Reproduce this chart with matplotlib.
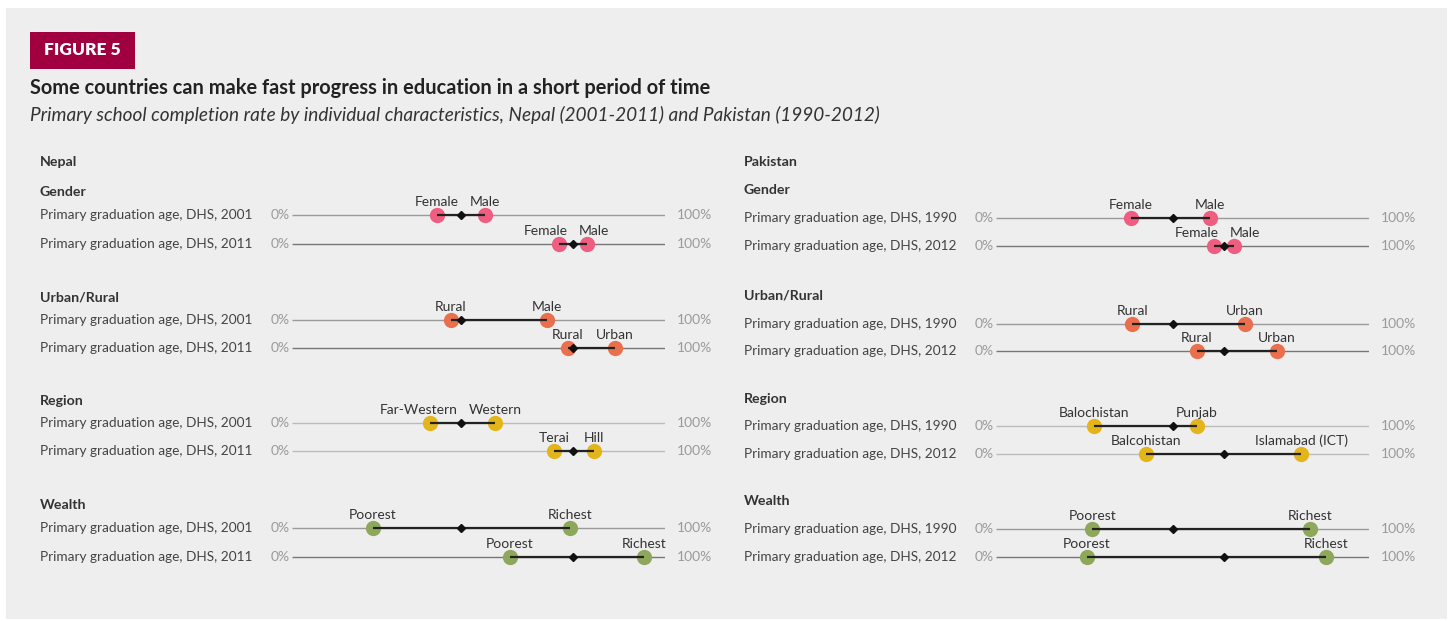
import matplotlib
matplotlib.use("Agg")
import matplotlib.pyplot as plt
from matplotlib.patches import Rectangle
from matplotlib import transforms

plt.rcParams['font.family'] = ['Lato', 'DejaVu Sans']

W, H = 1453, 621

# ---------------- data ----------------
groups = ["Gender", "Urban/Rural", "Region", "Wealth"]

nepal_years = ["2001", "2011"]
nepal_low_labels = [["Female", "Female"], ["Rural", "Rural"], ["Far-Western", "Terai"], ["Poorest", "Poorest"]]
nepal_high_labels = [["Male", "Male"], ["Male", "Urban"], ["Western", "Hill"], ["Richest", "Richest"]]
nepal_low = [[38.9, 71.6], [42.6, 74.0], [37.0, 70.2], [21.7, 58.4]]
nepal_high = [[51.7, 79.1], [68.4, 86.6], [54.4, 81.0], [74.5, 94.4]]
nepal_avg = [45.3, 75.3]

pak_years = ["1990", "2012"]
pak_low_labels = [["Female", "Female"], ["Rural", "Rural"], ["Balochistan", "Balcohistan"], ["Poorest", "Poorest"]]
pak_high_labels = [["Male", "Male"], ["Urban", "Urban"], ["Punjab", "Islamabad (ICT)"], ["Richest", "Richest"]]
pak_low = [[36.2, 58.4], [36.5, 53.9], [26.3, 40.2], [25.8, 24.3]]
pak_high = [[57.4, 63.7], [66.8, 75.3], [53.9, 81.8], [84.3, 88.4]]
pak_avg = [47.5, 61.1]

group_colors = ["#EF5E80", "#EA6F4D", "#E4B51A", "#8EA85B"]

# ---------------- layout ----------------
fig = plt.figure(figsize=(W / 100, H / 100), dpi=100)
fig.patch.set_facecolor("white")

def fx(px):
    return px / W

def fy(py):
    return 1 - py / H

fig.patches.append(Rectangle((fx(6), fy(619)), fx(1447) - fx(6), fy(8) - fy(619),
                             transform=fig.transFigure, facecolor="#EEEEEE", edgecolor="none", zorder=-10))
fig.patches.append(Rectangle((fx(30), fy(69)), fx(135) - fx(30), fy(32) - fy(69),
                             transform=fig.transFigure, facecolor="#A0003F", edgecolor="none", zorder=-9))
fig.text(fx(82), fy(50), "FIGURE 5", color="white", fontsize=12.5, fontweight="heavy",
         ha="center", va="center")
fig.text(fx(30), fy(88), "Some countries can make fast progress in education in a short period of time",
         color="#222222", fontsize=14.4, fontweight="bold", ha="left", va="center")
fig.text(fx(30), fy(115), "Primary school completion rate by individual characteristics, Nepal (2001-2011) and Pakistan (1990-2012)",
         color="#333333", fontsize=13.7, fontstyle="italic", ha="left", va="center")

panels = [
    dict(name="Nepal", years=nepal_years, low=nepal_low, high=nepal_high, lowl=nepal_low_labels,
         highl=nepal_high_labels, avg=nepal_avg, x0=292, x1=665, label_x=40,
         title_y=162, head_y=[192, 297, 401, 505], rows_y=[[215, 244], [320, 348], [423, 451], [528, 557]]),
    dict(name="Pakistan", years=pak_years, low=pak_low, high=pak_high, lowl=pak_low_labels,
         highl=pak_high_labels, avg=pak_avg, x0=996, x1=1369, label_x=744,
         title_y=162, head_y=[190, 296, 399, 501], rows_y=[[218, 246], [324, 351], [426, 454], [529, 557]]),
]

base_colors = ["#9A9A9A", "#777777"]

pending = []
for p in panels:
    ax = fig.add_axes([fx(p["x0"]), 0, fx(p["x1"]) - fx(p["x0"]), 1])
    ax.set_xlim(0, 100)
    ax.set_ylim(H, 0)
    ax.axis("off")
    ax.patch.set_alpha(0)
    tr = transforms.blended_transform_factory(fig.transFigure, ax.transData)
    ax.text(fx(p["label_x"]), p["title_y"], p["name"], transform=tr, fontsize=10.2, fontweight="bold",
            color="#333333", ha="left", va="center")
    for g, gname in enumerate(groups):
        ax.text(fx(p["label_x"]), p["head_y"][g], gname, transform=tr, fontsize=10.2, fontweight="bold",
                color="#333333", ha="left", va="center")
        for r, yr in enumerate(p["years"]):
            y = p["rows_y"][g][r]
            ax.text(fx(p["label_x"]), y, f"Primary graduation age, DHS, {yr}", transform=tr,
                    fontsize=9.8, color="#444444", ha="left", va="center")
            ax.annotate("0%", (0, y), xytext=(-2, 0), textcoords="offset pixels", fontsize=10,
                        color="#9A9A9A", ha="right", va="center")
            ax.annotate("100%", (100, y), xytext=(12, 0), textcoords="offset pixels", fontsize=10,
                        color="#9A9A9A", ha="left", va="center")
            bc = "#BBBBBB" if g == 2 else base_colors[r]
            ax.plot([0, 100], [y, y], color=bc, lw=1.0, zorder=1, solid_capstyle="butt")
            lo, hi = p["low"][g][r], p["high"][g][r]
            ax.plot([lo, hi], [y, y], ls="none", marker="o", ms=11, color=group_colors[g],
                    mec="none", zorder=2, clip_on=False)
            ax.plot([lo, hi], [y, y], color="#222222", lw=1.6, zorder=3, solid_capstyle="butt")
            ax.plot([p["avg"][r]], [y], marker="D", ms=3.6, color="#111111", zorder=4, ls="none")
            t1 = ax.annotate(p["lowl"][g][r], (lo, y), xytext=(0, 7), textcoords="offset pixels",
                             fontsize=10, color="#333333", ha="center", va="bottom")
            t2 = ax.annotate(p["highl"][g][r], (hi, y), xytext=(0, 7), textcoords="offset pixels",
                             fontsize=10, color="#333333", ha="center", va="bottom")
            pending.append((ax, t1, t2, lo, hi, p["avg"][r], y))

fig.canvas.draw()
renderer = fig.canvas.get_renderer()
for ax, t1, t2, lo, hi, av, y in pending:
    b1 = t1.get_window_extent(renderer)
    b2 = t2.get_window_extent(renderer)
    if b1.x1 + 4 > b2.x0:
        mid = (lo + hi) / 2
        t1.xy = (mid, y)
        t1.set_ha("right")
        t1.xyann = (-5, 7)
        t2.xy = (mid, y)
        t2.set_ha("left")
        t2.xyann = (6, 7)

fig.savefig("out.png", dpi=100, facecolor="white")
